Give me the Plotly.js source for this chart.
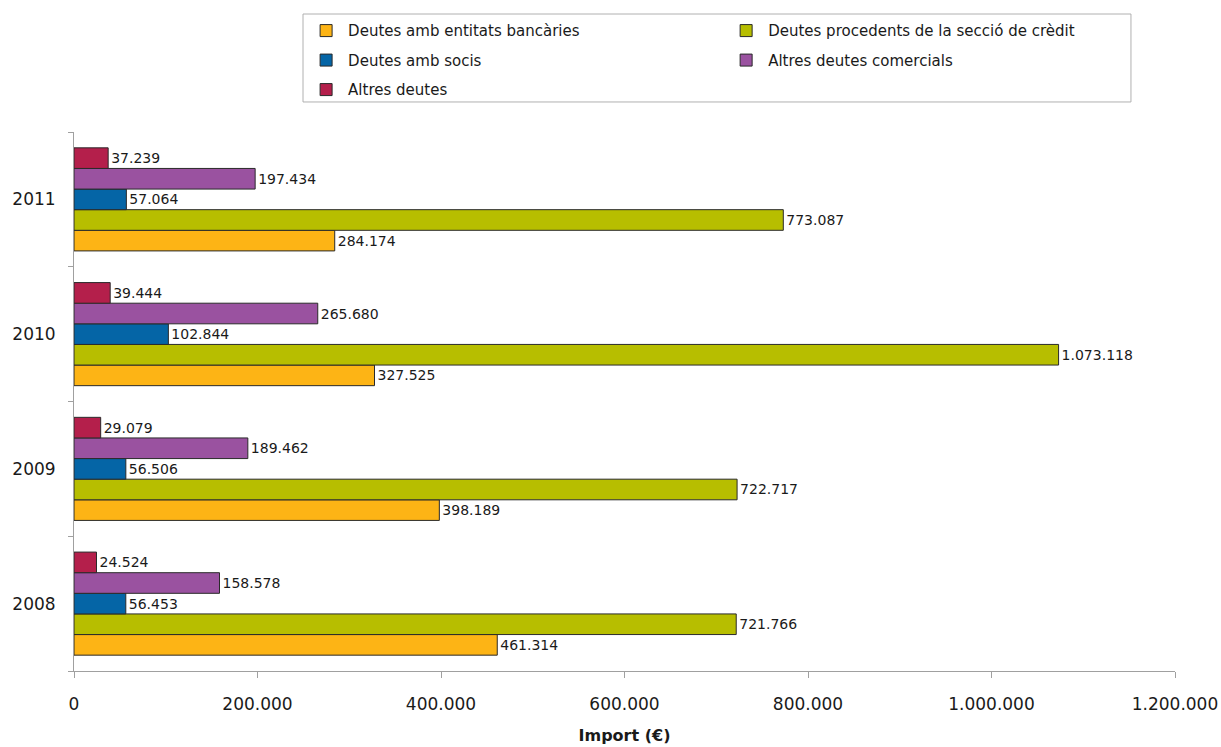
<!DOCTYPE html>
<html>
<head>
<meta charset="utf-8">
<script src="https://cdn.plot.ly/plotly-3.0.1.min.js"></script>
<style>html,body{margin:0;padding:0;background:#fff;}#chart{width:1221px;height:747px;}</style>
</head>
<body>
<div id="chart"></div>
<script>
const years = ['2008', '2009', '2010', '2011'];
const seriesNames = [
  'Deutes amb entitats bancàries',
  'Deutes procedents de la secció de crèdit',
  'Deutes amb socis',
  'Altres deutes comercials',
  'Altres deutes'
];
const bancaries = [461314, 398189, 327525, 284174];
const seccioCredit = [721766, 722717, 1073118, 773087];
const socis = [56453, 56506, 102844, 57064];
const comercials = [158578, 189462, 265680, 197434];
const altres = [24524, 29079, 39444, 37239];
const xTicks = [0, 200000, 400000, 600000, 800000, 1000000, 1200000];

const colors = ['#FDB415', '#B7BE00', '#0565A6', '#9A52A0', '#B41F4B'];
const values = [bancaries, seccioCredit, socis, comercials, altres];
const legendOf = ['legend', 'legend2', 'legend', 'legend2', 'legend'];
const FONT = 'DejaVu Sans, Liberation Sans, Arial, sans-serif';

const traces = values.map((v, i) => ({
  type: 'bar',
  orientation: 'h',
  name: seriesNames[i],
  legend: legendOf[i],
  legendgroup: 'g' + i,
  y: years,
  x: v,
  marker: {color: colors[i], line: {color: '#2a2a2a', width: 1}},
  texttemplate: '%{x:,}',
  textposition: 'outside',
  cliponaxis: false,
  constraintext: 'none',
  textfont: {size: 14, color: '#1a1a1a', family: FONT},
  hoverinfo: 'x'
}));

const legendBase = {
  orientation: 'v',
  yanchor: 'top',
  borderwidth: 0,
  bgcolor: 'rgba(0,0,0,0)',
  font: {size: 15, color: '#1a1a1a', family: FONT},
  traceorder: 'grouped',
  tracegroupgap: 7,
  itemwidth: 34
};

const layout = {
  width: 1221,
  height: 747,
  margin: {l: 74, r: 46, t: 132, b: 76, autoexpand: false},
  paper_bgcolor: '#fff',
  plot_bgcolor: '#fff',
  separators: ',.',
  font: {family: FONT, color: '#1a1a1a'},
  barmode: 'group',
  bargap: 0.235,
  bargroupgap: 0,
  showlegend: true,
  legend: Object.assign({}, legendBase, {x: 0.209, xanchor: 'left', y: 1.2183}),
  legend2: Object.assign({}, legendBase, {x: 0.5905, xanchor: 'left', y: 1.2183}),
  shapes: [{
    type: 'rect', xref: 'paper', yref: 'paper',
    x0: 0.208, x1: 0.96, y0: 1.0557, y1: 1.2189,
    line: {color: '#b0b0b0', width: 1},
    fillcolor: 'rgba(0,0,0,0)',
    layer: 'below'
  }],
  xaxis: {
    range: [0, 1200000],
    tickvals: xTicks,
    tickformat: ',',
    showgrid: false,
    zeroline: false,
    showline: true,
    linecolor: '#a0a0a0',
    linewidth: 1,
    ticks: 'outside',
    ticklen: 6,
    tickcolor: '#a0a0a0',
    ticklabelstandoff: 12,
    tickfont: {size: 17, color: '#1a1a1a', family: FONT},
    title: {text: '<b>Import (€)</b>', font: {size: 16, color: '#1a1a1a', family: FONT}, standoff: 16}
  },
  xaxis2: {
    overlaying: 'x',
    anchor: 'y',
    side: 'bottom',
    range: [0, 1200000],
    tickvals: xTicks,
    showticklabels: false,
    showgrid: false,
    zeroline: false,
    showline: false,
    ticks: 'inside',
    ticklen: 6,
    tickcolor: '#a0a0a0'
  },
  yaxis: {
    type: 'category',
    range: [-0.5, 3.5],
    showgrid: false,
    zeroline: false,
    showline: true,
    linecolor: '#a0a0a0',
    linewidth: 1,
    ticks: 'outside',
    tickson: 'boundaries',
    ticklen: 5,
    tickcolor: '#a0a0a0',
    ticklabelstandoff: 14,
    tickfont: {size: 17, color: '#1a1a1a', family: FONT}
  }
};

Plotly.newPlot('chart', traces, layout, {displayModeBar: false, staticPlot: true});
</script>
</body>
</html>
